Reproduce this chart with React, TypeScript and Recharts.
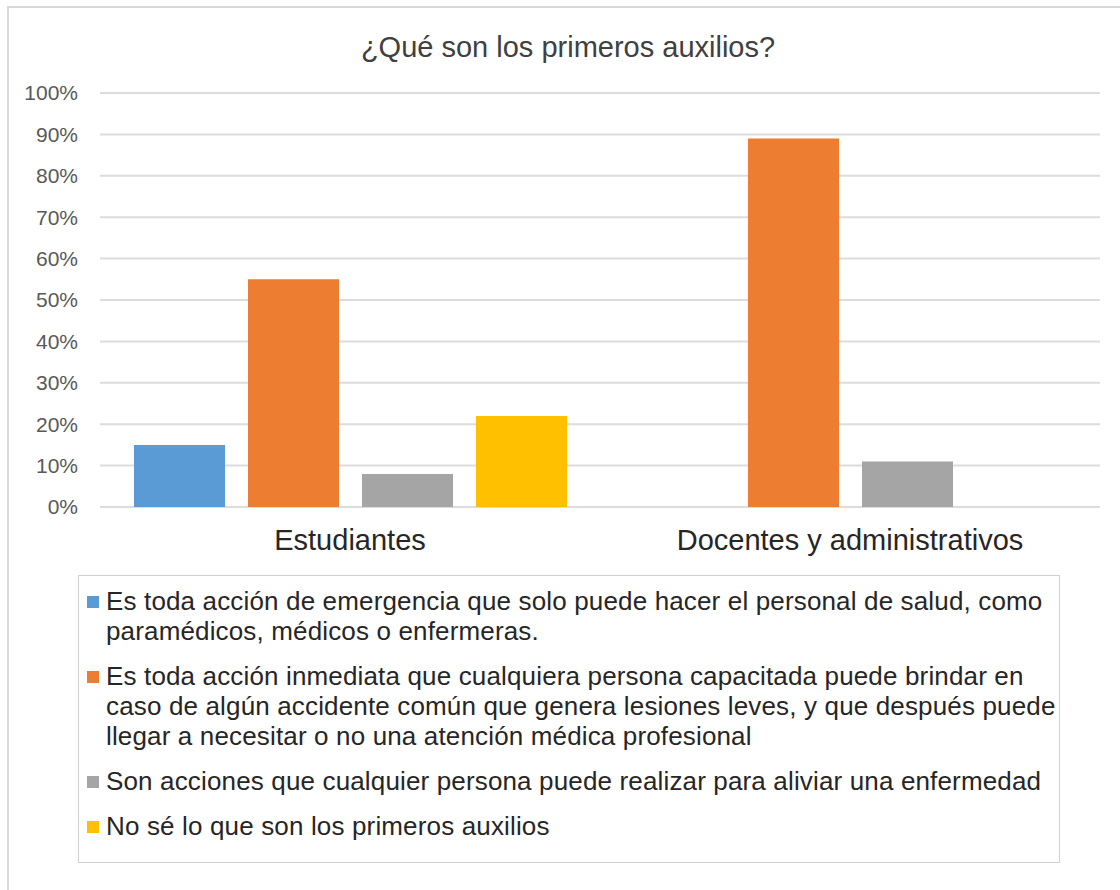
import React from "react";
import { BarChart, Bar, XAxis, YAxis, CartesianGrid } from "recharts";

// categories on the x axis
const categories = ["Estudiantes", "Docentes y administrativos"];

// answer options (series), in legend order
const seriesKeys = ["salud", "inmediata", "aliviar", "noSe"];
const seriesNames = [
    "Es toda acción de emergencia que solo puede hacer el personal de salud, como\nparamédicos, médicos o enfermeras.",
    "Es toda acción inmediata que cualquiera persona capacitada puede brindar en\ncaso de algún accidente común que genera lesiones leves, y que después puede\nllegar a necesitar o no una atención médica profesional",
    "Son acciones que cualquier persona puede realizar para aliviar una enfermedad",
    "No sé lo que son los primeros auxilios",
];
const seriesColors = ["#5b9bd5", "#ed7d31", "#a5a5a5", "#ffc000"];

// percentages per category (Estudiantes, Docentes y administrativos)
const accionSalud = [15, 0];
const accionInmediata = [55, 89];
const aliviarEnfermedad = [8, 11];
const noSabe = [22, null];

const yTicks = [0, 10, 20, 30, 40, 50, 60, 70, 80, 90, 100];

const FONT = '"Liberation Sans", Arial, sans-serif';

const seriesValues = [accionSalud, accionInmediata, aliviarEnfermedad, noSabe];

const data = categories.map((name, i) => {
    const row: Record<string, any> = { name };
    seriesKeys.forEach((key, s) => {
        row[key] = seriesValues[s][i];
    });
    return row;
});

// legend drawn as a plain box under the plot (Excel style)
function LegendBox() {
    return (
        <div
            style={{
                position: "absolute",
                left: 78,
                top: 575,
                width: 982,
                height: 288,
                boxSizing: "border-box",
                border: "1.5px solid #d0d0d0",
                padding: "10px 0 0 8px",
                fontFamily: FONT,
                fontSize: 26,
                letterSpacing: 0.15,
                lineHeight: "30px",
                color: "#262626",
                background: "#fff",
            }}
        >
            {seriesNames.map((label, i) => (
                <div key={seriesKeys[i]} style={{ display: "flex", marginBottom: 15 }}>
                    <span
                        style={{
                            width: 12,
                            height: 12,
                            background: seriesColors[i],
                            marginTop: 10,
                            marginRight: 7,
                            flex: "none",
                        }}
                    />
                    <span style={{ whiteSpace: "pre" }}>{label}</span>
                </div>
            ))}
        </div>
    );
}

export default function App() {
    return (
        <div
            style={{
                position: "absolute",
                left: 0,
                top: 0,
                width: 1120,
                height: 890,
                background: "#fff",
                overflow: "hidden",
            }}
        >
            {/* chart frame: only left and top edges are visible in the picture */}
            <div
                style={{
                    position: "absolute",
                    left: 7,
                    top: 6,
                    width: 1120,
                    height: 890,
                    borderLeft: "2px solid #d9d9d9",
                    borderTop: "2px solid #d9d9d9",
                }}
            />
            <div
                style={{
                    position: "absolute",
                    left: 18,
                    top: 33,
                    width: 1100,
                    textAlign: "center",
                    fontFamily: FONT,
                    fontSize: 29,
                    lineHeight: "29px",
                    color: "#404040",
                }}
            >
                ¿Qué son los primeros auxilios?
            </div>
            <div style={{ position: "absolute", left: 0, top: 0 }}>
                <BarChart
                    width={1120}
                    height={890}
                    data={data}
                    margin={{ top: 93, right: 20, left: 0, bottom: 333 }}
                    barCategoryGap={34}
                    barGap={23}
                >
                    <CartesianGrid vertical={false} stroke="#dcdcdc" strokeWidth={2} />
                    <XAxis
                        dataKey="name"
                        height={50}
                        axisLine={false}
                        tickLine={false}
                        tickMargin={16}
                        tick={{ fill: "#262626", fontSize: 29, fontFamily: FONT }}
                    />
                    <YAxis
                        width={100}
                        domain={[0, 100]}
                        ticks={yTicks}
                        axisLine={false}
                        tickLine={false}
                        tickMargin={16}
                        tickFormatter={(v) => `${v}%`}
                        tick={{ fill: "#595959", fontSize: 21, fontFamily: FONT }}
                    />
                    {seriesKeys.map((key, i) => (
                        <Bar
                            key={key}
                            dataKey={key}
                            name={seriesNames[i]}
                            fill={seriesColors[i]}
                            isAnimationActive={false}
                        />
                    ))}
                </BarChart>
            </div>
            <LegendBox />
        </div>
    );
}
